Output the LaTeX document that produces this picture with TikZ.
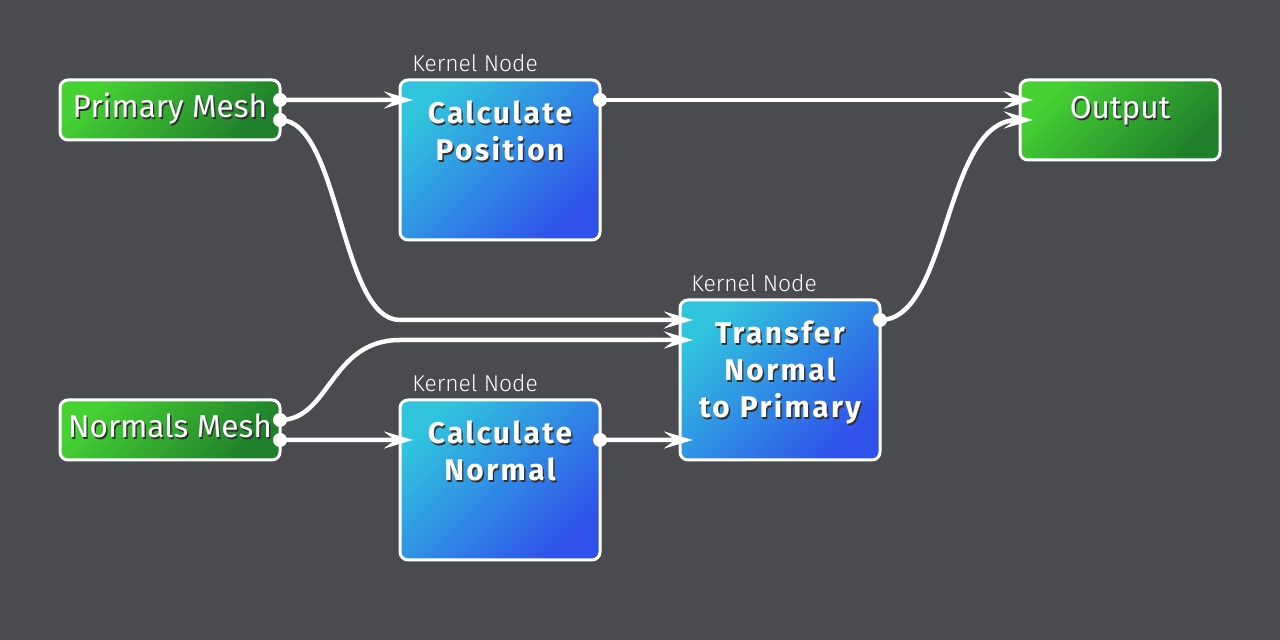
\documentclass[tikz,border=0pt]{standalone}
\usepackage{fontspec}
\setmainfont{Fira Sans}
\newfontfamily\boxfont[LetterSpace=8]{Fira Sans}
\newfontfamily\thinfont{Fira Sans Light}
\usepackage{xcolor}
\usetikzlibrary{positioning, calc, arrows.meta}
\definecolor{bgcol}{HTML}{4A4B4F}
\definecolor{ioLight}{HTML}{46D233}
\definecolor{ioDark}{HTML}{1F7F2B}
\definecolor{kLight}{HTML}{30C4DE}
\definecolor{kDark}{HTML}{2F52EA}
\definecolor{txtshadow}{HTML}{303030}
\newcommand{\txtshd}[1]{\leavevmode\rlap{\kern0.8pt\raisebox{-0.8pt}{\color{txtshadow}#1}}#1}

\tikzset{
  io/.style={draw=white, line width=0.06cm, rounded corners=0.16cm,
    top color=ioLight, bottom color=ioDark, shading angle=45,
    minimum width=4.4cm, minimum height=1.2cm, text height=0.76cm, text depth=0.44cm,
    inner sep=0, outer sep=0, text=white, font=\fontsize{18}{21}\selectfont},
  kernel/.style={draw=white, line width=0.06cm, rounded corners=0.16cm,
    top color=kLight, bottom color=kDark, shading angle=45,
    minimum width=4cm, minimum height=3.2cm, text width=3.8cm, align=center,
    text height=0.88cm, text depth=2.32cm, inner xsep=0.1cm, inner ysep=0, outer sep=0,
    text=white, font=\boxfont\bfseries\fontsize{17}{21}\selectfont},
  kernlabel/.style={text=white, inner sep=0, font=\thinfont\fontsize{13}{15}\selectfont},
  wire/.style={white, line width=0.09cm, -{Stealth[length=0.58cm, width=0.34cm, inset=0.22cm]}},
}

\begin{document}
\begin{tikzpicture}
  \fill[bgcol] (0,0) rectangle (25.6,-12.8);

  \node[io]
    (pm) at (3.4,-2.2) {\txtshd{Primary Mesh}};
  \node[io]
    (nm) at (3.4,-8.6) {\txtshd{Normals Mesh}};
  \node[kernel, right=2.4cm of pm.north east, anchor=north west]
    (cpos) {\txtshd{Calculate}\\\txtshd{Position}};
  \node[kernel, below=3.2cm of cpos]
    (cnorm) {\txtshd{Calculate}\\\txtshd{Normal}};
  \node[kernel, anchor=north west]
    (tr) at (13.6,-6) {\txtshd{Transfer}\\\txtshd{Normal}\\\txtshd{to Primary}};
  \node[io, right=8.4cm of cpos.north east, anchor=north west,
    minimum width=4cm, minimum height=1.6cm, text height=0.78cm, text depth=0.82cm]
    (out) {\txtshd{Output}};

  \node[kernlabel, above right=0.16cm and 0.24cm of cpos.north west]
    (cpos-lbl) {Kernel Node};
  \node[kernlabel, above right=0.16cm and 0.24cm of cnorm.north west]
    (cnorm-lbl) {Kernel Node};
  \node[kernlabel, above right=0.16cm and 0.22cm of tr.north west]
    (tr-lbl) {Kernel Node};

  \coordinate (pm-o1) at ($(pm.east)+(0,0.2)$);
  \coordinate (pm-o2) at ($(pm.east)+(0,-0.2)$);
  \coordinate (nm-o1) at ($(nm.east)+(0,0.2)$);
  \coordinate (nm-o2) at ($(nm.east)+(0,-0.2)$);
  \coordinate (cpos-i) at ($(cpos.north west)+(0.26,-0.4)$);
  \coordinate (cpos-o) at ($(cpos.north east)+(0,-0.4)$);
  \coordinate (cnorm-i) at ($(cnorm.north west)+(0.26,-0.8)$);
  \coordinate (cnorm-o) at ($(cnorm.north east)+(0,-0.8)$);
  \coordinate (tr-i1) at ($(tr.north west)+(0.26,-0.4)$);
  \coordinate (tr-i2) at ($(tr.north west)+(0.26,-0.8)$);
  \coordinate (tr-i3) at ($(tr.north west)+(0.26,-2.8)$);
  \coordinate (tr-o) at ($(tr.north east)+(0,-0.4)$);
  \coordinate (out-i1) at ($(out.north west)+(0.26,-0.4)$);
  \coordinate (out-i2) at ($(out.north west)+(0.26,-0.8)$);

  \draw[wire] (pm-o1) -- (cpos-i);
  \draw[wire] (pm-o2) .. controls +(1.2,0) and +(-1.2,0) .. (cpos.west |- tr-i1) -- (tr-i1);
  \draw[wire] (nm-o1) .. controls +(1.0,0) and +(-1.4,0) .. (cnorm.west |- tr-i2) -- (tr-i2);
  \draw[wire] (nm-o2) -- (cnorm-i);
  \draw[wire] (cnorm-o) -- (tr-i3);
  \draw[wire] (cpos-o) -- (out-i1);
  \draw[wire] (tr-o) .. controls +(1.4,0) and +(-1.8,0) .. (out-i2);

  \foreach \p in {pm-o1, pm-o2, nm-o1, nm-o2, cpos-o, cnorm-o, tr-o}
    \fill[white] (\p) circle (0.14cm);
\end{tikzpicture}
\end{document}
